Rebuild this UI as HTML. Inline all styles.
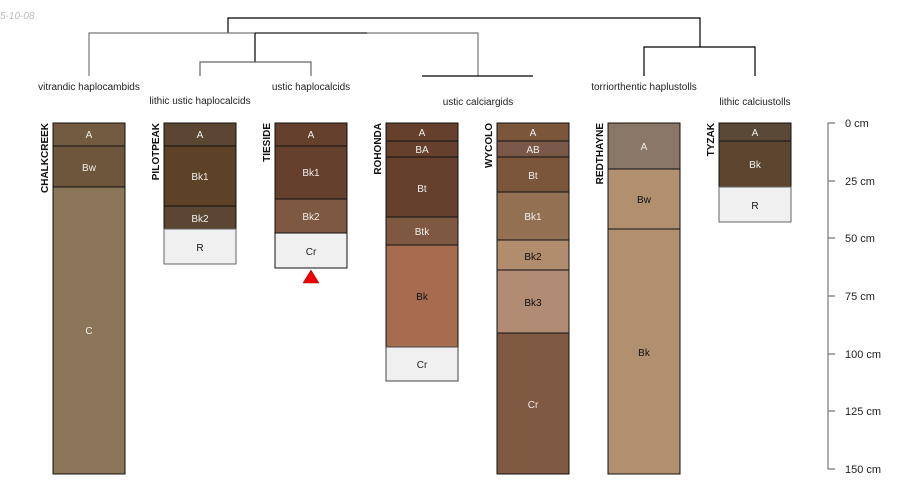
<!DOCTYPE html>
<html><head><meta charset="utf-8"><style>
html,body{margin:0;padding:0;background:#fff;}
svg{display:block;font-family:"Liberation Sans",sans-serif;}
</style></head><body>
<svg width="900" height="500" viewBox="0 0 900 500" xmlns="http://www.w3.org/2000/svg">
<text x="0" y="19" font-size="10" font-style="italic" fill="#bbb">5-10-08</text>
<g fill="none" stroke-width="1.2">
<path d="M228 33 V18 H700 V47" stroke="#000"/>
<path d="M89 76 V33 H478 V76" stroke="#777"/>
<path d="M255 33 H367" stroke="#333"/>
<path d="M255 33 V62" stroke="#000"/>
<path d="M200 76 V62 H311 V76" stroke="#666"/>
<path d="M422 76 H533" stroke="#000"/>
<path d="M644 76 V47 H755 V76" stroke="#000"/>
</g>
<g font-size="10" fill="#222" text-anchor="middle">
<text x="89" y="90">vitrandic haplocambids</text>
<text x="200" y="104">lithic ustic haplocalcids</text>
<text x="311" y="90">ustic haplocalcids</text>
<text x="478" y="105">ustic calciargids</text>
<text x="644" y="90">torriorthentic haplustolls</text>
<text x="755" y="105">lithic calciustolls</text>
</g>
<g stroke="#111" stroke-width="1">
<!-- CHALKCREEK -->
<rect x="53" y="123" width="72" height="23" fill="#735b41"/>
<rect x="53" y="146" width="72" height="41" fill="#6e563c"/>
<rect x="53" y="187" width="72" height="287" fill="#8c765a"/>
<!-- PILOTPEAK -->
<rect x="164" y="123" width="72" height="23" fill="#5b4631"/>
<rect x="164" y="146" width="72" height="60" fill="#5d4227"/>
<rect x="164" y="206" width="72" height="23" fill="#5b4631"/>
<rect x="164" y="229" width="72" height="35" fill="#f0f0f0" stroke="#666"/>
<!-- TIESIDE -->
<rect x="275" y="123" width="72" height="23" fill="#65402c"/>
<rect x="275" y="146" width="72" height="53" fill="#65402c"/>
<rect x="275" y="199" width="72" height="34" fill="#7f5842"/>
<rect x="275" y="233" width="72" height="35" fill="#f0f0f0"/>
<!-- ROHONDA -->
<rect x="386" y="123" width="72" height="18" fill="#65402c"/>
<rect x="386" y="141" width="72" height="16" fill="#65402c"/>
<rect x="386" y="157" width="72" height="60" fill="#65402c"/>
<rect x="386" y="217" width="72" height="28" fill="#7f5842"/>
<rect x="386" y="245" width="72" height="102" fill="#a66c4f"/>
<rect x="386" y="347" width="72" height="34" fill="#f0f0f0" stroke="#444"/>
<!-- WYCOLO -->
<rect x="497" y="123" width="72" height="18" fill="#7c563a"/>
<rect x="497" y="141" width="72" height="16" fill="#7a5848"/>
<rect x="497" y="157" width="72" height="35" fill="#7c563a"/>
<rect x="497" y="192" width="72" height="48" fill="#947052"/>
<rect x="497" y="240" width="72" height="30" fill="#b18c6d"/>
<rect x="497" y="270" width="72" height="63" fill="#b18b73"/>
<rect x="497" y="333" width="72" height="141" fill="#7f5942"/>
<!-- REDTHAYNE -->
<rect x="608" y="123" width="72" height="46" fill="#8a7767"/>
<rect x="608" y="169" width="72" height="60" fill="#b28f6f"/>
<rect x="608" y="229" width="72" height="245" fill="#b28f6f"/>
<!-- TYZAK -->
<rect x="719" y="123" width="72" height="18" fill="#5b4938"/>
<rect x="719" y="141" width="72" height="46" fill="#5d4630"/>
<rect x="719" y="187" width="72" height="35" fill="#f0f0f0" stroke="#666"/>
</g>
<polygon points="311,270 303,283 319,283" fill="#e00" stroke="#900" stroke-width="0.5"/>
<g font-size="10" text-anchor="middle" fill="#eee">
<text x="89" y="138">A</text><text x="89" y="171">Bw</text><text x="89" y="334">C</text>
<text x="200" y="138">A</text><text x="200" y="180">Bk1</text><text x="200" y="222">Bk2</text><text x="200" y="251" fill="#111">R</text>
<text x="311" y="138">A</text><text x="311" y="176">Bk1</text><text x="311" y="220">Bk2</text><text x="311" y="255" fill="#222">Cr</text>
<text x="422" y="136">A</text><text x="422" y="153">BA</text><text x="422" y="192">Bt</text><text x="422" y="235">Btk</text><text x="422" y="300" fill="#111">Bk</text><text x="422" y="368" fill="#222">Cr</text>
<text x="533" y="136">A</text><text x="533" y="153">AB</text><text x="533" y="179">Bt</text><text x="533" y="220">Bk1</text><text x="533" y="260" fill="#111">Bk2</text><text x="533" y="306" fill="#111">Bk3</text><text x="533" y="408">Cr</text>
<text x="644" y="150">A</text><text x="644" y="203" fill="#111">Bw</text><text x="644" y="356" fill="#111">Bk</text>
<text x="755" y="136">A</text><text x="755" y="168">Bk</text><text x="755" y="209" fill="#111">R</text>
</g>
<g font-size="10" font-weight="bold" fill="#111">
<text transform="translate(48,123) rotate(-90)" text-anchor="end">CHALKCREEK</text>
<text transform="translate(159,123) rotate(-90)" text-anchor="end">PILOTPEAK</text>
<text transform="translate(270,123) rotate(-90)" text-anchor="end">TIESIDE</text>
<text transform="translate(381,123) rotate(-90)" text-anchor="end">ROHONDA</text>
<text transform="translate(492,123) rotate(-90)" text-anchor="end">WYCOLO</text>
<text transform="translate(603,123) rotate(-90)" text-anchor="end">REDTHAYNE</text>
<text transform="translate(714,123) rotate(-90)" text-anchor="end">TYZAK</text>
</g>
<g stroke="#777" stroke-width="1.2" fill="none">
<path d="M835 123 H828 V469 H835"/>
<path d="M828 181 H835 M828 238 H835 M828 296 H835 M828 354 H835 M828 411 H835"/>
</g>
<g font-size="11" fill="#222">
<text x="845" y="127">0 cm</text>
<text x="845" y="185">25 cm</text>
<text x="845" y="242">50 cm</text>
<text x="845" y="300">75 cm</text>
<text x="845" y="358">100 cm</text>
<text x="845" y="415">125 cm</text>
<text x="845" y="473">150 cm</text>
</g>
</svg>
</body></html>
